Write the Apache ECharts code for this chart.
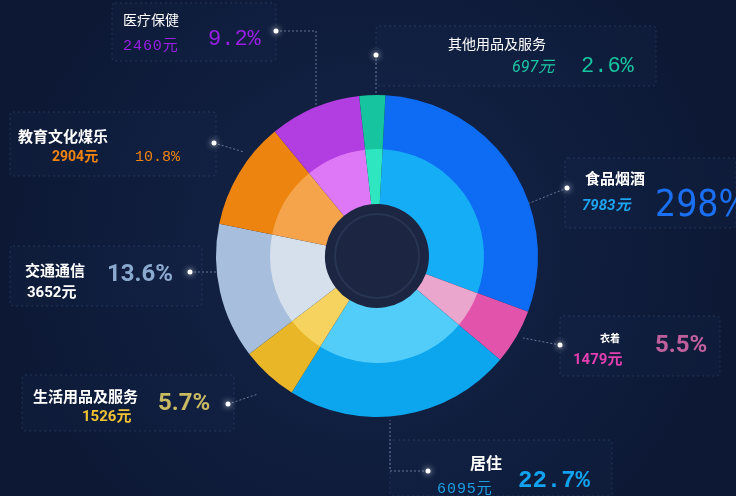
<!DOCTYPE html>
<html>
<head>
<meta charset="utf-8">
<script src="https://cdn.jsdelivr.net/npm/echarts@6/dist/echarts.min.js"></script>
<style>
  html, body { margin: 0; padding: 0; background: #0f1c3b; }
  #chart { width: 736px; height: 496px; }
</style>
</head>
<body>
<div id="chart"></div>
<script>
// spending categories, clockwise from the top
const names = ['食品烟酒', '衣着', '居住', '生活用品及服务', '交通通信', '教育文化煤乐', '医疗保健', '其他用品及服务'];
const amounts = [7983, 1479, 6095, 1526, 3652, 2904, 2460, 697];
const percentLabels = ['298%', '5.5%', '22.7%', '5.7%', '13.6%', '10.8%', '9.2%', '2.6%'];
const outerColors = ['#0d6cf3', '#e254ac', '#0ca6ee', '#e8b626', '#a7bfdc', '#ee8410', '#b23de0', '#16c49f'];
const innerColors = ['#15adf6', '#eaa6cd', '#52cdf9', '#f6d25e', '#d5e0ec', '#f6a44c', '#df78f7', '#2ee6bf'];

const CN = '"Noto Sans CJK SC", sans-serif';
const MONO = '"Liberation Mono", "DejaVu Sans Mono", monospace';
const SANS = 'Roboto, "Open Sans", sans-serif';

// where each label block sits (same order as names)
const labelSpots = [
  { n: [585, 178, 15, 'bold'], v: [582, 206, 15, 'italic bold', '#1ea4ef', SANS, 0], p: [655, 206, 37, 'normal', '#1a6ff2', '"Liberation Sans Narrow", "DejaVu Sans Condensed", sans-serif'] },
  { n: [600, 338, 10, 'bold'], v: [573, 360, 15, 'bold', '#e43fb0', SANS, 0], p: [655, 346, 24, 'bold', '#bf5f9c', SANS] },
  { n: [470, 463, 16, 'bold'], v: [437, 489, 15, 'normal', '#1b9fe2', MONO, 1], p: [518, 481, 24, 'bold', '#12a3f0', MONO] },
  { n: [33, 396, 15, 'bold'], v: [82, 417, 15, 'bold', '#f1c232', SANS, 0], p: [158, 404, 24, 'bold', '#c9ba62', SANS] },
  { n: [25, 270, 15, 'bold'], v: [27, 293, 15, 'bold', '#ffffff', SANS, 0], p: [107, 275, 24, 'bold', '#8ba9cf', SANS] },
  { n: [18, 136, 15, 'bold'], v: [52, 157, 14, 'bold', '#f08410', SANS, 0], p: [135, 157, 15, 'normal', '#f08410', MONO] },
  { n: [123, 20, 14, 'normal'], v: [123, 46, 15, 'normal', '#9a1fe6', MONO, 1], p: [208, 39, 22, 'normal', '#9a1fe6', MONO] },
  { n: [448, 44, 14, 'normal'], v: [512, 68, 16, 'italic', '#1cc7a4', SANS, 0], p: [581, 66, 22, 'normal', '#16c49f', MONO] }
];

// faint framing boxes and leader lines around the ring
const frames = [[112, 3, 164, 58], [376, 26, 280, 60], [10, 112, 206, 64], [565, 158, 171, 70], [10, 246, 192, 60], [560, 316, 160, 60], [22, 375, 212, 56], [390, 440, 222, 56]];
const leaders = [
  [[276, 31], [316, 31], [316, 110]],
  [[376, 55], [376, 96]],
  [[214, 143], [244, 152]],
  [[567, 188], [500, 215]],
  [[190, 272], [218, 272]],
  [[560, 345], [523, 338]],
  [[228, 404], [258, 394]],
  [[428, 471], [390, 471], [390, 420]]
];

const chart = echarts.init(document.getElementById('chart'));

const graphic = [
  { type: 'circle', shape: { cx: 377, cy: 256, r: 53 }, style: { fill: '#1c2643' }, z: -1 },
  { type: 'circle', shape: { cx: 377, cy: 256, r: 42 }, style: { fill: 'none', stroke: 'rgba(90,110,150,0.2)', lineWidth: 2 }, z: -1 }
];
frames.forEach(function (f) {
  graphic.push({ type: 'rect', shape: { x: f[0], y: f[1], width: f[2], height: f[3], r: 3 },
    style: { fill: 'rgba(30,50,90,0.15)', stroke: 'rgba(120,150,200,0.22)', lineWidth: 1, lineDash: [2, 3] }, z: -2 });
});
leaders.forEach(function (l) {
  graphic.push({ type: 'polyline', shape: { points: l },
    style: { stroke: 'rgba(190,205,235,0.5)', lineWidth: 1, lineDash: [2, 2] }, z: 1 });
  graphic.push({ type: 'circle', shape: { cx: l[0][0], cy: l[0][1], r: 2.5 },
    style: { fill: '#ffffff', shadowBlur: 6, shadowColor: '#ffffff' }, z: 2 });
});
labelSpots.forEach(function (s, i) {
  graphic.push({ type: 'text', x: s.n[0], y: s.n[1], z: 5,
    style: { text: names[i], fill: '#ffffff', font: s.n[3] + ' ' + s.n[2] + 'px ' + CN, verticalAlign: 'middle' } });
  const amt = String(amounts[i]);
  graphic.push({ type: 'text', x: s.v[0], y: s.v[1], z: 5,
    style: { text: s.v[6] ? amt.split('').join('\u200a') + '\u200a元' : amt + '元', fill: s.v[4],
      font: s.v[3] + ' ' + s.v[2] + 'px ' + s.v[5] + ', ' + CN, verticalAlign: 'middle' } });
  graphic.push({ type: 'text', x: s.p[0], y: s.p[1], z: 5,
    style: { text: percentLabels[i], fill: s.p[4], font: s.p[3] + ' ' + s.p[2] + 'px ' + s.p[5], verticalAlign: 'middle' } });
});

const option = {
  backgroundColor: {
    type: 'radial', x: 0.5, y: 0.5, r: 0.75,
    colorStops: [{ offset: 0, color: '#15254a' }, { offset: 1, color: '#0c1834' }]
  },
  graphic: graphic,
  series: [
    {
      type: 'pie',
      center: [377, 256],
      radius: [52, 108],
      startAngle: 87,
      clockwise: true,
      silent: true,
      label: { show: false },
      labelLine: { show: false },
      data: names.map(function (n, i) {
        return { name: n, value: amounts[i], itemStyle: { color: innerColors[i] } };
      })
    },
    {
      type: 'pie',
      center: [377, 256],
      radius: [107, 161],
      startAngle: 87,
      clockwise: true,
      silent: true,
      label: { show: false },
      labelLine: { show: false },
      data: names.map(function (n, i) {
        return { name: n, value: amounts[i], itemStyle: { color: outerColors[i] } };
      })
    }
  ]
};
chart.setOption(option);
</script>
</body>
</html>
